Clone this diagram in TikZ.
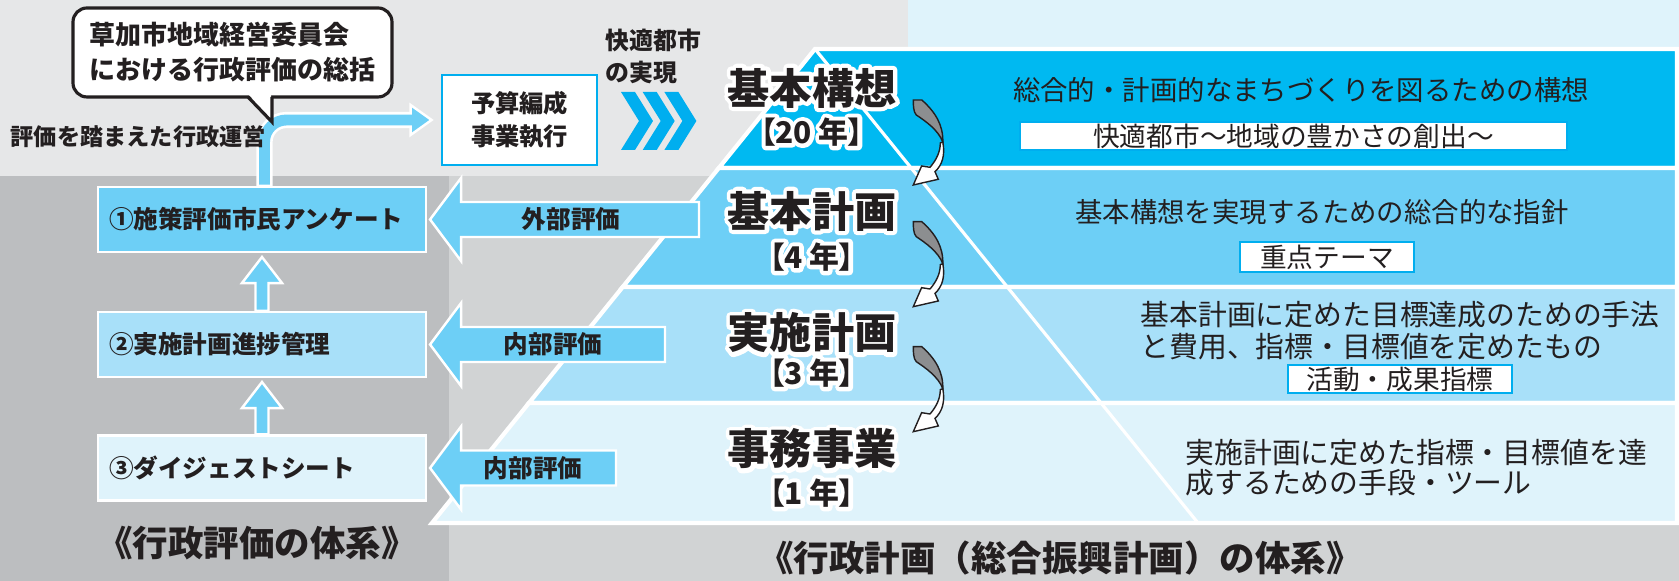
\documentclass[tikz,border=0pt]{standalone}
\usepackage{fontspec}
\setmainfont{Noto Sans CJK JP}
\newfontfamily\jpprop{Noto Sans CJK JP}[RawFeature=+palt]
\usetikzlibrary{calc}

% white outline behind a label: stroked copy, then the filled text
\newcommand{\halo}[1]{\rlap{\special{pdf:literal direct q 1 j 2.4 w 1 1 1 RG 1 Tr}#1\special{pdf:literal direct Q}}#1}

\definecolor{ink}{HTML}{231F20}
\definecolor{bgtop}{HTML}{E6E7E8}
\definecolor{bgleft}{HTML}{BCBEC0}
\definecolor{bgmid}{HTML}{D1D3D4}
\definecolor{paleblue}{HTML}{DFF3FB}
\definecolor{deepcyan}{HTML}{00B9F1}
\definecolor{midcyan}{HTML}{6DCFF6}
\definecolor{lightcyan}{HTML}{A8E0F9}
\definecolor{chevroncyan}{HTML}{00AEEF}
\definecolor{twistgray}{HTML}{8C8E90}

\tikzset{%
  evalbox/.style   = {shape=rectangle, draw=white, line width=0.6pt,%
                      minimum width=3.28cm, minimum height=0.65cm,%
                      text width=3.06cm, align=left, inner xsep=0.11cm,%
                      font=\bfseries\fontsize{7}{8}\selectfont, text=ink},%
  bubble/.style    = {shape=rectangle, draw=ink, line width=0.9pt, fill=white,%
                      rounded corners=0.14cm, minimum width=3.19cm,%
                      minimum height=0.89cm, align=left, text=ink,%
                      font=\bfseries\fontsize{7.4}{9.9}\selectfont},%
  budgetbox/.style = {shape=rectangle, draw=chevroncyan, line width=0.8pt,%
                      fill=white, minimum width=1.55cm, minimum height=0.9cm,%
                      align=center, text=ink,%
                      font=\bfseries\fontsize{6.9}{9.4}\selectfont},%
  plainlabel/.style= {inner sep=0pt, text=ink, align=left,%
                      font=\bfseries\fontsize{6.8}{9.1}\selectfont},%
  evaltag/.style   = {inner sep=0pt, text=ink,%
                      font=\bfseries\fontsize{7}{8}\selectfont},%
  barrow/.style    = {fill=midcyan, draw=white, line width=0.7pt},%
  planlabel/.style = {inner sep=0pt, text=ink,%
                      font=\bfseries\fontsize{12}{13}\selectfont},%
  yearlabel/.style = {inner sep=0pt, text=ink,%
                      font=\jpprop\bfseries\fontsize{8.5}{9}\selectfont},%
  bandtext/.style  = {inner sep=0pt, text=ink, align=left,%
                      font=\fontsize{7.8}{9.1}\selectfont},%
  tagbox/.style    = {shape=rectangle, draw=chevroncyan, line width=0.4pt,%
                      fill=white, inner sep=0pt, minimum height=0.28cm,%
                      text=ink, font=\fontsize{7.6}{8}\selectfont},%
  titletext/.style = {inner sep=0pt, text=ink,%
                      font=\bfseries\fontsize{10.1}{10.5}\selectfont},%
  twist/.pic       = {%
    \filldraw[fill=twistgray, draw=ink, line width=0.4pt] (0,0) -- (0.085,0)
      .. controls (0.22,-0.12) and (0.30,-0.25) .. (0.295,-0.42)
      .. controls (0.25,-0.30) and (0.12,-0.21) .. (0.03,-0.15)
      .. controls (0,-0.12) and (0,-0.05) .. (0,0) -- cycle;
    \filldraw[fill=white, draw=ink, line width=0.4pt] (0.295,-0.42)
      .. controls (0.32,-0.55) and (0.29,-0.65) .. (0.217,-0.717)
      -- (0.25,-0.793) -- (0,-0.85) -- (0.083,-0.66) -- (0.167,-0.673)
      .. controls (0.23,-0.60) and (0.27,-0.52) .. (0.27,-0.43) -- cycle;
  }%
}

\begin{document}
\begin{tikzpicture}
	\useasboundingbox (0,0) rectangle (16.79,5.81);
	% backgrounds
	\fill[white] (0,0) rectangle (16.79,5.81);
	\fill[bgtop] (0,4.05) rectangle (9.08,5.81);
	\fill[paleblue] (9.08,5.33) rectangle (16.79,5.81);
	\fill[bgleft] (0,0) rectangle (4.49,4.05);
	\fill[bgmid] (4.49,0) rectangle (16.79,4.05);
	% pyramid
	\foreach \yt/\yb/\col in {5.32/4.13/deepcyan, 4.13/2.94/midcyan, 2.94/1.78/lightcyan, 1.78/0.58/paleblue}
		\filldraw[fill=\col, draw=white, line width=1.2pt]
			({8.15-0.808*(5.32-\yt)},\yt) -- (16.77,\yt) -- (16.77,\yb) -- ({8.15-0.808*(5.32-\yb)},\yb) -- cycle;
	\draw[white, line width=0.9pt] (8.15,5.32) -- (11.98,0.58);
	\node[planlabel] (k1) at (8.12,4.93) {\halo{基本構想}};
	\node[yearlabel] (y1) at (8.12,4.49) {\halo{【20 年】}};
	\node[planlabel] (k2) at (8.12,3.70) {\halo{基本計画}};
	\node[yearlabel] (y2) at (8.12,3.24) {\halo{【4 年】}};
	\node[planlabel] (k3) at (8.12,2.48) {\halo{実施計画}};
	\node[yearlabel] (y3) at (8.12,2.08) {\halo{【3 年】}};
	\node[planlabel] (k4) at (8.12,1.32) {\halo{事務事業}};
	\node[yearlabel] (y4) at (8.12,0.88) {\halo{【1 年】}};
	\foreach \ys in {4.81,3.593,2.343}
		\pic at (9.133,\ys) {twist};
	% descriptions
	\node[bandtext] (d1) at (13.01,4.91) {総合的・計画的なまちづくりを図るための構想};
	\node[tagbox, minimum width=5.47cm] (g1) at (12.935,4.45) {快適都市～地域の豊かさの創出～};
	\node[bandtext] (d2) at (13.22,3.69) {基本構想を実現するための総合的な指針};
	\node[tagbox, minimum width=1.74cm, minimum height=0.30cm] (g2) at (13.27,3.24) {重点テーマ};
	\node[bandtext, anchor=west, font=\fontsize{8.2}{9.1}\selectfont] (d3) at (11.40,2.50) {基本計画に定めた目標達成のための手法\\と費用、指標・目標値を定めたもの};
	\node[tagbox, minimum width=2.24cm] (g3) at (14.00,2.02) {活動・成果指標};
	\node[bandtext, anchor=west, font=\fontsize{8.2}{8.6}\selectfont] (d4) at (11.85,1.13) {実施計画に定めた指標・目標値を達\\成するための手段・ツール};
	% evaluation side
	\node[evalbox, fill=midcyan] (b1) at (2.62,3.615) {①施策評価市民アンケート};
	\node[evalbox, fill=lightcyan] (b2) at (2.62,2.365) {②実施計画進捗管理};
	\node[evalbox, fill=paleblue] (b3) at (2.62,1.13) {③ダイジェストシート};
	\node[budgetbox] (exec) at (5.195,4.61) {予算編成\\事業執行};
	\node[plainlabel, anchor=west] (goal) at (6.05,5.25) {快適都市\\の実現};
	\foreach \i in {0,1,2}
		\fill[chevroncyan, xshift=\i*2.17mm] (6.21,4.89) -- (6.35,4.89) -- (6.53,4.60) -- (6.35,4.31) -- (6.21,4.31) -- (6.39,4.60) -- cycle;
	\foreach \lo/\hi in {b3/b2, b2/b1}
		\filldraw[barrow] ([xshift=-0.65mm]\lo.north) -- ([xshift=-0.65mm,yshift=-3mm]\hi.south)
			-- ([xshift=-2mm,yshift=-3mm]\hi.south) -- ([yshift=-0.4mm]\hi.south)
			-- ([xshift=2mm,yshift=-3mm]\hi.south) -- ([xshift=0.65mm,yshift=-3mm]\hi.south)
			-- ([xshift=0.65mm]\lo.north) -- cycle;
	\foreach \bx/\xe/\xt/\txt in {b1/6.99/5.71/外部評価, b2/6.65/5.53/内部評価, b3/6.16/5.33/内部評価} {
		\filldraw[barrow] ([xshift=0.3mm]\bx.east) -- ([xshift=3.4mm,yshift=4.15mm]\bx.east)
			-- ([xshift=3.4mm,yshift=1.75mm]\bx.east) -- ([yshift=1.75mm]\bx.east -| \xe,0)
			-- ([yshift=-1.75mm]\bx.east -| \xe,0) -- ([xshift=3.4mm,yshift=-1.75mm]\bx.east)
			-- ([xshift=3.4mm,yshift=-4.15mm]\bx.east) -- cycle;
		\node[evaltag] (t\bx) at (\bx.east -| \xt,0) {\txt};
	}
	% feedback to budget
	\draw[white, line width=4.6pt, rounded corners=2.2mm] (b1.north -| 2.645,0) |- ([xshift=-2.8mm]exec.west);
	\filldraw[barrow] ([xshift=-3mm,yshift=1.5mm]exec.west) -- ([xshift=-0.9mm]exec.west) -- ([xshift=-3mm,yshift=-1.5mm]exec.west) -- cycle;
	\draw[midcyan, line width=3.1pt, rounded corners=2.2mm] ([yshift=0.4pt]b1.north -| 2.645,0) |- ([xshift=-2.8mm]exec.west);
	\node[plainlabel, anchor=west, font=\bfseries\fontsize{6.6}{8}\selectfont] (policy) at (0.10,4.44) {評価を踏まえた行政運営};
	\node[bubble] (note) at (2.325,5.285) {草加市地域経営委員会\\における行政評価の総括};
	\coordinate (tail) at (2.72,4.59);
	\fill[white] (2.49,4.86) -- (2.71,4.86) -- (2.71,4.62) -- cycle;
	\draw[ink, line width=0.9pt] (2.48,4.84) -- (tail) -- (2.72,4.84);
	% titles
	\node[titletext] (lt) at (2.57,0.38) {《行政評価の体系》};
	\node[titletext] (rt) at (10.60,0.23) {《行政計画（総合振興計画）の体系》};
\end{tikzpicture}
\end{document}
